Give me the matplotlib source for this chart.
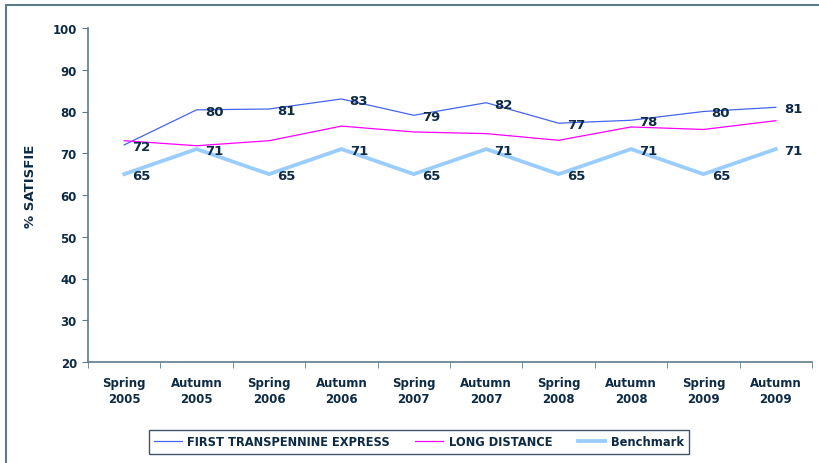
import numpy as np
import matplotlib.pyplot as plt
from matplotlib.patches import Rectangle

# survey waves
waves = ['Spring\n2005', 'Autumn\n2005', 'Spring\n2006', 'Autumn\n2006', 'Spring\n2007',
         'Autumn\n2007', 'Spring\n2008', 'Autumn\n2008', 'Spring\n2009', 'Autumn\n2009']
# % satisfied
tpe = [72.0, 80.4, 80.6, 83.0, 79.1, 82.1, 77.2, 77.9, 80.0, 81.0]
long_dist = [73.0, 71.8, 73.0, 76.5, 75.1, 74.7, 73.1, 76.3, 75.7, 77.8]
benchmark = [65, 71, 65, 71, 65, 71, 65, 71, 65, 71]

TXT = '#0d2b45'
AXC = '#5f7a8c'

fig = plt.figure(figsize=(8.19, 4.64), dpi=100)
ax = fig.add_axes([88/819, 1-363/464, 724/819, 334/464])

# outer frame (only top/left show in the original)
fig.patches.append(Rectangle((6/819, -0.1), 1.2, 1 - 6/464 + 0.1, transform=fig.transFigure,
                             fill=False, edgecolor=AXC, lw=1.5))

x = np.arange(len(waves))
ax.plot(x, tpe, color='#4466ee', lw=0.9, label='FIRST TRANSPENNINE EXPRESS')
ax.plot(x, long_dist, color='#ff00ff', lw=0.9, label='LONG DISTANCE')
ax.plot(x, benchmark, color='#99ccff', lw=2.7, label='Benchmark', solid_joinstyle='miter')

# value labels for TPE and benchmark
for xi, v in zip(x, tpe):
    ax.annotate(f'{v:.0f}', (xi, v), xytext=(6, -1), textcoords='offset points',
                ha='left', va='center', fontsize=9.5, fontweight='bold', color=TXT)
for xi, v in zip(x, benchmark):
    ax.annotate(f'{v:.0f}', (xi, v), xytext=(6, -1), textcoords='offset points',
                ha='left', va='center', fontsize=9.5, fontweight='bold', color=TXT)

ax.set_xlim(-0.5, len(waves) - 0.5)
ax.set_ylim(20, 100)
ax.set_yticks(np.arange(20, 101, 10))
ax.set_xticks(x)
ax.set_xticklabels(waves)
ax.set_xticks(np.arange(-0.5, len(waves), 1), minor=True)
ax.tick_params(axis='x', which='major', length=0, pad=10)
ax.tick_params(axis='x', which='minor', length=4, color=AXC, direction='out')
ax.tick_params(axis='y', length=4, color=AXC, pad=4)
for lab in ax.get_xticklabels() + ax.get_yticklabels():
    lab.set_fontweight('bold')
    lab.set_fontsize(8.5)
    lab.set_color(TXT)
for lab in ax.get_xticklabels():
    lab.set_linespacing(1.3)

for s in ['top', 'right']:
    ax.spines[s].set_visible(False)
for s in ['left', 'bottom']:
    ax.spines[s].set_color(AXC)
    ax.spines[s].set_linewidth(1.2)

fig.text(30/819, 1-186/464, '% SATISFIE', rotation=90, ha='center', va='center',
         fontsize=9.5, fontweight='bold', color=TXT)

leg = fig.legend(loc='center', bbox_to_anchor=(419/819, 1-443/464), ncol=3, frameon=True,
                 fancybox=False, prop={'size': 8.3, 'weight': 'bold'}, handlelength=2.4,
                 columnspacing=2.2, borderpad=0.45, handletextpad=0.5)
leg.get_frame().set_edgecolor(TXT)
leg.get_frame().set_linewidth(1.0)
for t in leg.get_texts():
    t.set_color(TXT)

fig.savefig('out.png', dpi=100)
